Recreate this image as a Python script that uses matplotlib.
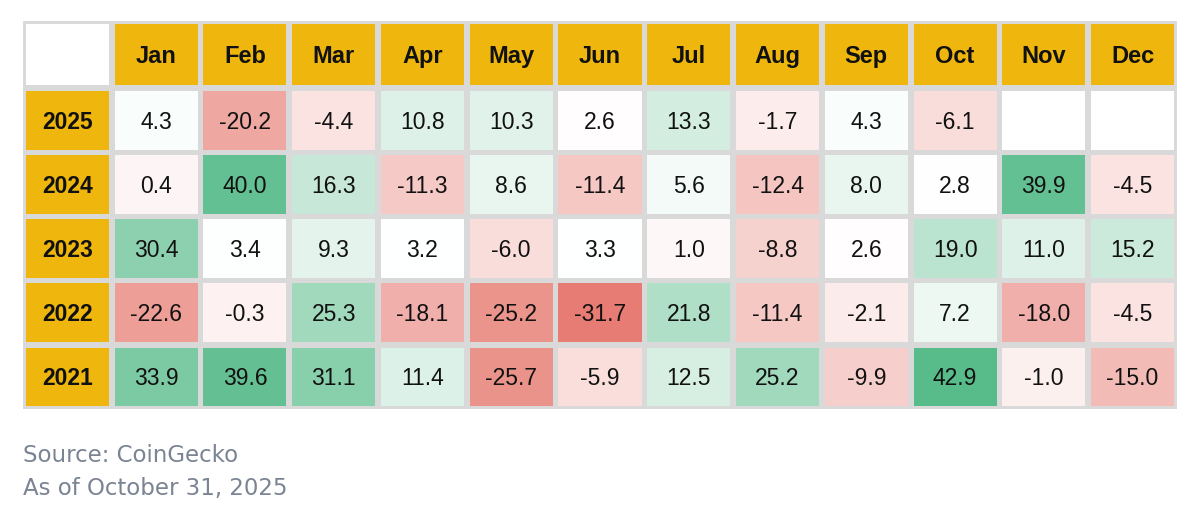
import numpy as np
import matplotlib.pyplot as plt
from matplotlib.patches import Rectangle
from matplotlib.colors import LinearSegmentedColormap, TwoSlopeNorm

months = ['Jan', 'Feb', 'Mar', 'Apr', 'May', 'Jun', 'Jul', 'Aug', 'Sep', 'Oct', 'Nov', 'Dec']
years = ['2025', '2024', '2023', '2022', '2021']

r2025 = [4.3, -20.2, -4.4, 10.8, 10.3, 2.6, 13.3, -1.7, 4.3, -6.1, np.nan, np.nan]
r2024 = [0.4, 40.0, 16.3, -11.3, 8.6, -11.4, 5.6, -12.4, 8.0, 2.8, 39.9, -4.5]
r2023 = [30.4, 3.4, 9.3, 3.2, -6.0, 3.3, 1.0, -8.8, 2.6, 19.0, 11.0, 15.2]
r2022 = [-22.6, -0.3, 25.3, -18.1, -25.2, -31.7, 21.8, -11.4, -2.1, 7.2, -18.0, -4.5]
r2021 = [33.9, 39.6, 31.1, 11.4, -25.7, -5.9, 12.5, 25.2, -9.9, 42.9, -1.0, -15.0]

data = np.array([r2025, r2024, r2023, r2022, r2021])

plt.rcParams['font.family'] = ['Liberation Sans', 'DejaVu Sans']

gold = '#EFB70E'
grid = '#D9D9D9'
cmap = LinearSegmentedColormap.from_list('rwg', ['#E67C73', '#FFFFFF', '#57BB8A'])
norm = TwoSlopeNorm(vmin=np.nanmin(data), vcenter=np.nanmedian(data), vmax=np.nanmax(data))

fig = plt.figure(figsize=(12, 5.18), dpi=100)
ax = fig.add_axes([23 / 1200, 1 - 409 / 518, (1177 - 23) / 1200, (409 - 21) / 518])
ncol = len(months) + 1
# header row a bit taller than the data rows (pixel heights)
row_h = [67] + [64.2] * len(years)
row_y = np.concatenate([[0], np.cumsum(row_h)])
ax.set_xlim(0, ncol)
ax.set_ylim(row_y[-1], 0)
ax.axis('off')

ax.add_patch(Rectangle((0, 0), ncol, row_y[-1], color=grid, lw=0))
gx, gy = 0.032, 2.7


def cell(c, r, color, text='', bold=False, size=16.5):
    y0, h = row_y[r], row_h[r]
    ax.add_patch(Rectangle((c + gx, y0 + gy), 1 - 2 * gx, h - 2 * gy, color=color, lw=0))
    if text:
        ax.text(c + 0.5, y0 + h * 0.53, text, ha='center', va='center', fontsize=size,
                fontweight='bold' if bold else 'normal', color='#111111')


cell(0, 0, 'white')
for j, m in enumerate(months):
    cell(j + 1, 0, gold, m, bold=True, size=17)
for i, y in enumerate(years):
    cell(0, i + 1, gold, y, bold=True, size=16.5)
    for j in range(len(months)):
        v = data[i, j]
        if np.isnan(v):
            cell(j + 1, i + 1, 'white')
        else:
            cell(j + 1, i + 1, cmap(norm(v)), f'{v:.1f}')

fig.text(23 / 1200, 1 - 455 / 518, 'Source: CoinGecko', ha='left', va='center',
         fontsize=16.5, color='#7B8493', family=['DejaVu Sans'])
fig.text(23 / 1200, 1 - 488 / 518, 'As of October 31, 2025', ha='left', va='center',
         fontsize=16.5, color='#7B8493', family=['DejaVu Sans'])

fig.savefig('out.png', dpi=100, facecolor='white')
